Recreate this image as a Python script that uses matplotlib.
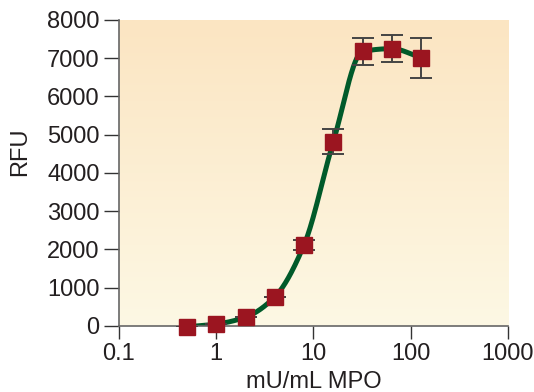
import matplotlib
matplotlib.use("Agg")
import matplotlib.pyplot as plt
import numpy as np
from matplotlib.colors import LinearSegmentedColormap

plt.rcParams['font.family'] = ['Liberation Sans', 'DejaVu Sans']

# data
mpo = [0.5, 1, 2, 4, 8, 16, 32, 64, 128]
rfu = [-20, 50, 230, 760, 2120, 4820, 7180, 7250, 7010]
err = [0, 0, 0, 0, 130, 330, 360, 360, 520]

xticks = [0.1, 1, 10, 100, 1000]
xticklabels = ['0.1', '1', '10', '100', '1000']
yticks = [0, 1000, 2000, 3000, 4000, 5000, 6000, 7000, 8000]


def smooth(xs, ys, n=40):
    # monotone cubic (pchip style) through the points, in log10(x)
    lx = np.log10(xs)
    y = np.asarray(ys, dtype=float)
    h = np.diff(lx)
    d = np.diff(y) / h
    m = np.zeros_like(y)
    for i in range(1, len(y) - 1):
        if d[i - 1] * d[i] > 0:
            w1 = 2 * h[i] + h[i - 1]
            w2 = h[i] + 2 * h[i - 1]
            m[i] = (w1 + w2) / (w1 / d[i - 1] + w2 / d[i])
    m[0] = d[0]
    m[-1] = d[-1]
    outx, outy = [], []
    t = np.linspace(0, 1, n)
    for i in range(len(y) - 1):
        h00 = 2 * t ** 3 - 3 * t ** 2 + 1
        h10 = t ** 3 - 2 * t ** 2 + t
        h01 = -2 * t ** 3 + 3 * t ** 2
        h11 = t ** 3 - t ** 2
        outx.extend(lx[i] + t * h[i])
        outy.extend(h00 * y[i] + h10 * h[i] * m[i] + h01 * y[i + 1] + h11 * h[i] * m[i + 1])
    return 10 ** np.array(outx), np.array(outy)


fig = plt.figure(figsize=(5.34, 3.92), dpi=100)
ax = fig.add_axes([0.2228, 0.1684, 0.7285, 0.7806])

# background gradient, peach at top, pale cream at bottom
cmap = LinearSegmentedColormap.from_list('bg', ['#FDF8E4', '#FBE5C2'])
grad = np.linspace(0, 1, 256).reshape(-1, 1)
ax.imshow(grad, cmap=cmap, origin='lower', extent=[0, 1, 0, 1],
          transform=ax.transAxes, aspect='auto', zorder=0)

cx, cy = smooth(mpo, rfu)
ax.plot(cx, cy, color='#005A2A', lw=3.6, zorder=2, solid_capstyle='round')

ax.errorbar(mpo, rfu, yerr=err, fmt='none', ecolor='#444444',
            elinewidth=1.4, capsize=8, capthick=1.4, zorder=3)
ax.plot(mpo, rfu, 's', color='#9B1520', markersize=11.5, zorder=4,
        clip_on=False)

ax.set_xscale('log')
ax.set_xlim(0.1, 1000)
ax.set_ylim(0, 8000)
ax.set_xticks(xticks)
ax.set_xticklabels(xticklabels)
ax.xaxis.set_minor_locator(matplotlib.ticker.NullLocator())
ax.set_yticks(yticks)

for s in ['top', 'right']:
    ax.spines[s].set_visible(False)
for s in ['left', 'bottom']:
    ax.spines[s].set_color('#666666')
    ax.spines[s].set_linewidth(1.2)

ax.tick_params(axis='y', direction='out', length=11, width=1, color='#333333',
               labelsize=17, labelcolor='#231F20', pad=3)
ax.tick_params(axis='x', direction='out', length=9.5, width=1, color='#333333',
               labelsize=17, labelcolor='#231F20', pad=3)

ax.set_xlabel('mU/mL MPO', fontsize=17, color='#231F20', labelpad=4)
ax.set_ylabel('RFU', fontsize=17, color='#231F20')
ax.yaxis.set_label_coords(-0.225, 0.57)

fig.savefig('out.png', dpi=100)
